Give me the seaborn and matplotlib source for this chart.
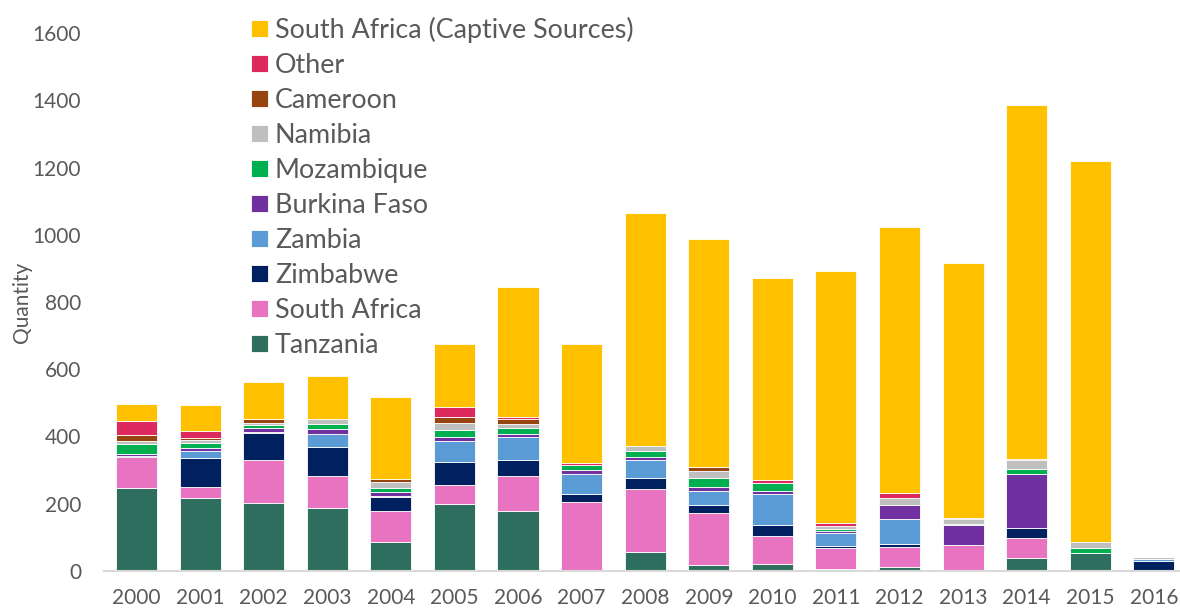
import pandas as pd
import seaborn as sns
import matplotlib.pyplot as plt

years = list(range(2000, 2017))

tanzania = [246, 218, 202, 187, 87, 198, 179, 0, 57, 19, 22, 7, 11, 2, 40, 54, 0]
south_africa = [92, 33, 127, 96, 92, 58, 104, 205, 187, 153, 81, 62, 61, 75, 58, 0, 0]
zimbabwe = [3, 86, 81, 87, 42, 69, 48, 25, 33, 25, 35, 5, 7, 1, 29, 0, 30]
zambia = [2, 21, 3, 37, 2, 62, 67, 58, 52, 41, 90, 40, 76, 0, 0, 0, 6]
burkina_faso = [6, 7, 13, 16, 11, 11, 9, 13, 10, 13, 9, 6, 42, 59, 162, 0, 0]
mozambique = [29, 16, 9, 15, 12, 21, 19, 13, 17, 25, 25, 5, 0, 4, 15, 13, 0]
namibia = [10, 9, 5, 14, 20, 21, 10, 0, 16, 21, 0, 10, 20, 13, 25, 20, 5]
cameroon = [17, 5, 12, 0, 9, 19, 16, 0, 0, 12, 0, 0, 0, 0, 0, 0, 0]
other = [40, 22, 0, 0, 0, 29, 6, 7, 0, 0, 10, 9, 16, 4, 3, 0, 0]
captive = [52, 76, 111, 128, 242, 188, 387, 355, 693, 678, 598, 747, 791, 757, 1054, 1133, 0]

# legend order = top of stack first
sources = ["South Africa (Captive Sources)", "Other", "Cameroon", "Namibia",
           "Mozambique", "Burkina Faso", "Zambia", "Zimbabwe", "South Africa",
           "Tanzania"]
series = [captive, other, cameroon, namibia, mozambique, burkina_faso,
          zambia, zimbabwe, south_africa, tanzania]
colors = ["#FFC000", "#DC2A5E", "#974510", "#BFBFBF", "#00B050", "#7030A0",
          "#5B9BD5", "#002060", "#E873C0", "#2D6E5E"]

rows = []
for name, vals in zip(sources, series):
    for y, v in zip(years, vals):
        rows.append({"year": y, "source": name, "qty": v})
df = pd.DataFrame(rows)

sns.set_theme(style="white")
plt.rcParams["font.family"] = ["Lato", "DejaVu Sans"]
grey = "#595959"

fig = plt.figure(figsize=(11.8, 6.09), dpi=100)
ax = fig.add_axes([104 / 1180, 38 / 609, 1076 / 1180, 538 / 609])

sns.histplot(data=df, x="year", weights="qty", hue="source", hue_order=sources,
             palette=dict(zip(sources, colors)), multiple="stack", discrete=True,
             shrink=0.645, alpha=1, edgecolor="white", linewidth=0.6, ax=ax)

ax.set_xlim(1999.49, 2016.41)
ax.set_ylim(0, 1600)
ax.set_xticks(years)
ax.set_yticks(range(0, 1601, 200))
ax.tick_params(axis="both", length=0, labelsize=15, colors=grey)
ax.tick_params(axis="y", pad=16.5)
ax.tick_params(axis="x", pad=12)
ax.set_xlabel("")
ax.set_ylabel("Quantity", fontsize=15, color=grey)
ax.yaxis.set_label_coords(-72 / 1076, 0.5)

sns.despine(ax=ax, left=True)
ax.spines["bottom"].set_color("#D9D9D9")
ax.spines["bottom"].set_linewidth(1.5)

sns.move_legend(ax, "upper left", bbox_to_anchor=(251 / 1180, 592 / 609),
                bbox_transform=fig.transFigure, frameon=False, title=None,
                fontsize=19.4, handlelength=0.63, handleheight=0.63,
                handletextpad=0.26, labelspacing=0.37, borderpad=0,
                borderaxespad=0)
for t in ax.get_legend().get_texts():
    t.set_color(grey)

fig.savefig("out.png", dpi=100)
